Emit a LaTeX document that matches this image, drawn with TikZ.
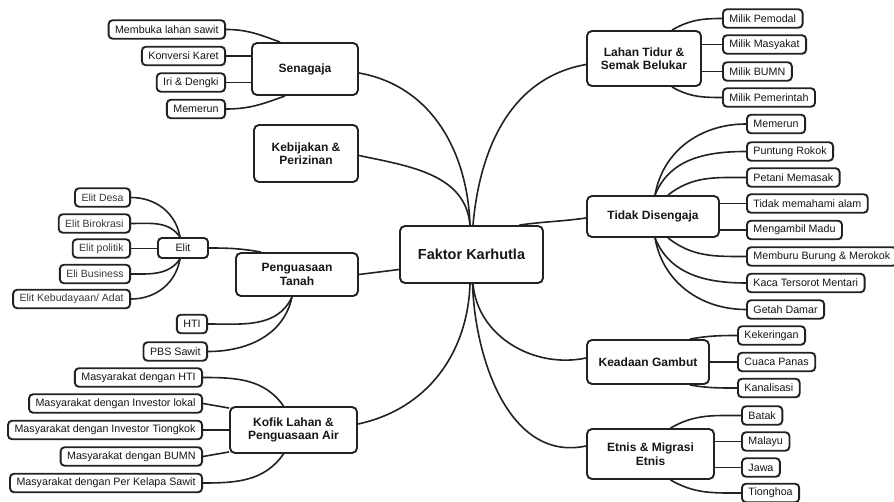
\documentclass[tikz,border=0pt]{standalone}
\usepackage{fontspec}
\setmainfont{Liberation Sans}
\definecolor{edgec}{HTML}{222222}
\definecolor{txtc}{HTML}{161616}
\definecolor{elitc}{HTML}{3A3A3A}
\begin{document}
\begin{tikzpicture}[x=1pt,y=-1pt,
  box/.style={draw=edgec, line width=1.9pt, rounded corners=4pt, fill=white, align=center, text=txtc},
  mainbox/.style={box, rounded corners=5pt, font=\fontsize{12}{13.5}\selectfont\bfseries, inner sep=2pt},
  leaf/.style={box, font=\fontsize{10.7}{12}\selectfont, inner xsep=6.5pt, inner ysep=0pt, minimum height=18.5pt},
  lleaf/.style={leaf, anchor=east},
  rleaf/.style={leaf, anchor=west},
  eleaf/.style={lleaf, text=elitc, font=\fontsize{10.5}{12}\selectfont},
  link/.style={draw=edgec, line width=1.6pt}]
\fill[white] (0,0) rectangle (894,502);
\useasboundingbox (0,0) rectangle (894,502);

% main nodes
\node[mainbox, minimum width=143pt, minimum height=57pt, font=\fontsize{14.5}{16}\selectfont\bfseries] (fk) at (471.5,254.5) {Faktor Karhutla};
\node[mainbox, minimum width=106pt, minimum height=52pt] (sen) at (305,69) {Senagaja};
\node[mainbox, minimum width=104pt, minimum height=57pt] (keb) at (306,153.5) {Kebijakan \&\\Perizinan};
\node[mainbox, minimum width=122pt, minimum height=43pt] (pt) at (297,274.5) {Penguasaan\\Tanah};
\node[mainbox, minimum width=127pt, minimum height=46pt] (kof) at (293.5,430) {Kofik Lahan \&\\Penguasaan Air};
\node[mainbox, minimum width=114pt, minimum height=55pt] (lahan) at (644,58.5) {Lahan Tidur \&\\Semak Belukar};
\node[mainbox, minimum width=132pt, minimum height=41pt] (tidak) at (653,216.5) {Tidak Disengaja};
\node[mainbox, minimum width=122pt, minimum height=44pt] (gambut) at (648,362) {Keadaan Gambut};
\node[mainbox, minimum width=127pt, minimum height=50pt] (etnis) at (650.5,454) {Etnis \& Migrasi\\Etnis};
\node[leaf, minimum width=50pt, minimum height=20pt] (elit) at (183,248) {Elit};

% left leaves
\node[lleaf] (memb) at (226,29.5) {Membuka lahan sawit};
\node[lleaf] (konv) at (226,56) {Konversi Karet};
\node[lleaf] (iri) at (226,82.5) {Iri \& Dengki};
\node[lleaf] (memA) at (226,109) {Memerun};
\node[eleaf] (edesa) at (131,197.5) {Elit Desa};
\node[eleaf] (ebiro) at (131,223.5) {Elit Birokrasi};
\node[eleaf] (epol) at (131,248.5) {Elit politik};
\node[eleaf] (ebus) at (131,274) {Eli Business};
\node[eleaf] (ekeb) at (131,299) {Elit Kebudayaan/ Adat};
\node[lleaf] (hti) at (208,324) {HTI};
\node[lleaf] (pbs) at (208,351.5) {PBS Sawit};
\node[lleaf] (ma) at (203,377.5) {Masyarakat dengan HTI};
\node[lleaf] (mb) at (203,403.5) {Masyarakat dengan Investor lokal};
\node[lleaf] (mc) at (203,430) {Masyarakat dengan Investor Tiongkok};
\node[lleaf] (md) at (203,456.5) {Masyarakat dengan BUMN};
\node[lleaf] (me) at (203,483) {Masyarakat dengan Per Kelapa Sawit};

% right leaves
\node[rleaf] (ra) at (722,18.5) {Milik Pemodal};
\node[rleaf] (rb) at (722,44.5) {Milik Masyakat};
\node[rleaf] (rc) at (722,71.5) {Milik BUMN};
\node[rleaf] (rd) at (722,97.5) {Milik Pemerintah};
\node[rleaf] (ta) at (746,124) {Memerun};
\node[rleaf] (tb) at (746,151.5) {Puntung Rokok};
\node[rleaf] (tc) at (746,177.5) {Petani Memasak};
\node[rleaf] (td) at (746,203.5) {Tidak memahami alam};
\node[rleaf] (te) at (746,230) {Mengambil Madu};
\node[rleaf] (tf) at (746,256.5) {Memburu Burung \& Merokok};
\node[rleaf] (tg) at (746,283) {Kaca Tersorot Mentari};
\node[rleaf] (th) at (746,309.5) {Getah Damar};
\node[rleaf] (ga) at (737,335.5) {Kekeringan};
\node[rleaf] (gb) at (737,362) {Cuaca Panas};
\node[rleaf] (gc) at (737,388) {Kanalisasi};
\node[rleaf] (ea) at (741,415.5) {Batak};
\node[rleaf] (eb) at (741,441.5) {Malayu};
\node[rleaf] (ec) at (741,467.5) {Jawa};
\node[rleaf] (ed) at (741,493) {Tionghoa};

% center links
\draw[link] ([yshift=-4pt]sen.east) to[out=-10,in=92] ([xshift=-1.5pt]fk.north);
\draw[link] ([yshift=-2pt]keb.east) to[out=-12,in=95] ([xshift=-1.5pt]fk.north);
\draw[link] ([yshift=-6pt]lahan.west) to[out=190,in=85] ([xshift=1.5pt]fk.north);
\draw[link] ([yshift=-1.5pt]tidak.west) to[out=188,in=8] ([xshift=48pt]fk.north);
\draw[link] (pt.east) -- ([yshift=-15pt]fk.west);
\draw[link] ([yshift=6pt]kof.east) to[out=12,in=268] ([xshift=-1.5pt]fk.south);
\draw[link] ([yshift=4pt]gambut.west) to[out=192,in=275] ([xshift=1.5pt]fk.south);
\draw[link] ([yshift=8pt]etnis.west) to[out=192,in=272] ([xshift=1pt]fk.south);

% Senagaja
\draw[link] (memb.east) to[out=0,in=160] ([xshift=-25pt]sen.north);
\draw[link] (konv.east) -- (konv.east -| sen.west);
\draw[link] (iri.east) -- (iri.east -| sen.west);
\draw[link] (memA.east) to[out=0,in=200] ([xshift=-20pt]sen.south);

% Elit
\draw[link] (edesa.east) to[out=0,in=100] ([xshift=-3pt]elit.north);
\draw[link] (ebiro.east) to[out=0,in=125] ([xshift=-3pt]elit.north);
\draw[link] (epol.east) -- (epol.east -| elit.west);
\draw[link] (ebus.east) to[out=0,in=235] ([xshift=-3pt]elit.south);
\draw[link] (ekeb.east) to[out=0,in=260] ([xshift=-3pt]elit.south);

% Penguasaan Tanah
\draw[link] (elit.east) to[out=0,in=170] ([xshift=-36pt]pt.north);
\draw[link] (hti.east) to[out=0,in=245] ([xshift=-5pt]pt.south);
\draw[link] (pbs.east) to[out=0,in=258] ([xshift=-5pt]pt.south);

% Kofik
\draw[link] (ma.east) to[out=0,in=125] ([xshift=-10pt]kof.north);
\draw[link] (mb.east) -- ([yshift=-2pt]kof.north west);
\draw[link] (mc.east) -- (mc.east -| kof.west);
\draw[link] (md.east) -- ([yshift=2pt]kof.south west);
\draw[link] (me.east) to[out=0,in=235] ([xshift=-10pt]kof.south);

% Lahan Tidur
\draw[link] (ra.west) to[out=180,in=30] ([xshift=28pt]lahan.north);
\draw[link] (rb.west) -- (rb.west -| lahan.east);
\draw[link] (rc.west) -- (rc.west -| lahan.east);
\draw[link] (rd.west) to[out=180,in=-30] ([xshift=28pt]lahan.south);

% Tidak Disengaja
\draw[link] (ta.west) to[out=180,in=80] ([xshift=2pt]tidak.north);
\draw[link] (tb.west) to[out=180,in=68] ([xshift=2pt]tidak.north);
\draw[link] (tc.west) to[out=180,in=38] ([xshift=15pt]tidak.north);
\draw[link] (td.west) -- (td.west -| tidak.east);
\draw[link] (te.west) -- (te.west -| tidak.east);
\draw[link] (tf.west) to[out=180,in=-38] ([xshift=15pt]tidak.south);
\draw[link] (tg.west) to[out=180,in=-68] ([xshift=2pt]tidak.south);
\draw[link] (th.west) to[out=180,in=-80] ([xshift=2pt]tidak.south);

% Keadaan Gambut
\draw[link] (ga.west) to[out=180,in=10] ([xshift=42pt]gambut.north);
\draw[link] (gb.west) -- (gb.west -| gambut.east);
\draw[link] (gc.west) to[out=180,in=-10] ([xshift=42pt]gambut.south);

% Etnis
\draw[link] (ea.west) to[out=180,in=30] ([xshift=20pt]etnis.north);
\draw[link] (eb.west) -- (eb.west -| etnis.east);
\draw[link] (ec.west) -- (ec.west -| etnis.east);
\draw[link] (ed.west) to[out=180,in=-30] ([xshift=20pt]etnis.south);
\end{tikzpicture}
\end{document}
